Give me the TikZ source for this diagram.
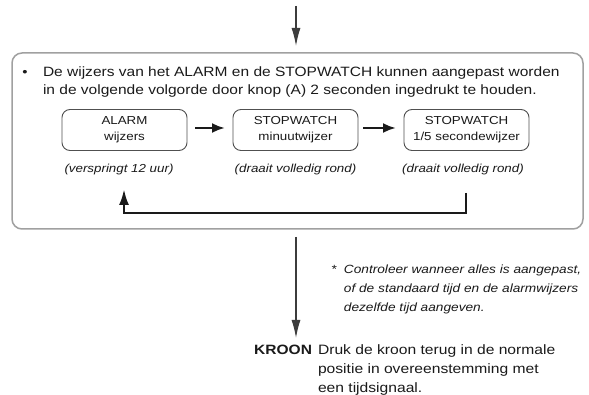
\documentclass[tikz,border=0pt]{standalone}
\usepackage{fontspec}
\setmainfont[FakeStretch=1.15]{Liberation Sans}
\usetikzlibrary{arrows.meta}
\definecolor{ink}{HTML}{1A1A1A}
\definecolor{frame}{HTML}{A0A0A0}
\definecolor{boxline}{HTML}{505050}
\begin{document}
\begin{tikzpicture}[x=1pt,y=-1pt,
  every node/.style={inner sep=0pt,outer sep=0pt,text=ink},
  outerframe/.style={draw=frame,line width=1.5pt,rounded corners=10pt},
  stepbox/.style={draw=boxline,line width=0.9pt,rounded corners=8pt,minimum width=125pt,minimum height=41pt,align=center,font=\fontsize{11.6}{16}\selectfont},
  flowarrow/.style={draw=ink!85,line width=1.3pt,-{Latex[length=18pt,width=9pt]}},
  nextarrow/.style={draw=ink,line width=2.5pt,-{Latex[length=13pt,width=10pt]}},
  note/.style={font=\fontsize{11.6}{14}\selectfont\itshape},
  body/.style={font=\fontsize{13.5}{17}\selectfont,align=left}
]
\path[fill=white] (0,0) rectangle (589,395);
\useasboundingbox (0,0) rectangle (589,395);

\coordinate (start) at (296,6);
\node[outerframe,minimum width=571pt,minimum height=176pt,anchor=north west] (frame) at (12,53) {};
\draw[flowarrow] (start) -- ([yshift=7pt]frame.north -| start);

\node[anchor=center,font=\fontsize{13}{14}\selectfont] (bullet) at (25,73) {•};
\node[body,anchor=west] (intro1) at (43,73) {De wijzers van het ALARM en de STOPWATCH kunnen aangepast worden};
\node[body,anchor=west] (intro2) at (43,91) {in de volgende volgorde door knop (A) 2 seconden ingedrukt te houden.};

\node[stepbox] (alarm) at (124.5,130) {ALARM\\wijzers};
\node[stepbox] (minute) at (295.5,130) {STOPWATCH\\minuutwijzer};
\node[stepbox] (fifth) at (466.5,130) {STOPWATCH\\1/5 secondewijzer};

\draw[nextarrow] ([xshift=8pt,yshift=2pt]alarm.east) -- ([xshift=-8pt,yshift=2pt]minute.west);
\draw[nextarrow] ([xshift=5pt,yshift=2pt]minute.east) -- ([xshift=-8pt,yshift=2pt]fifth.west);

\node[note] (l1) at (119,170) {(verspringt 12 uur)};
\node[note] (l2) at (295.5,170) {(draait volledig rond)};
\node[note] (l3) at (463,170) {(draait volledig rond)};

\draw[draw=ink,line width=2.6pt,-{Latex[length=16pt,width=10pt]}] (466,193) -- (466,213) -- (124,213) -- (124,189);

\coordinate (downstart) at (296,237);
\node[font=\fontsize{13.5}{16}\selectfont\bfseries,anchor=east] (kroon) at (312,350) {KROON};
\draw[flowarrow] (downstart) -- (296,338);

\node[note,anchor=north west,align=left,font=\fontsize{11.9}{19}\selectfont\itshape] (foot) at (331,265) {*\ \ Controleer wanneer alles is aangepast,\\\phantom{*\ \ }of de standaard tijd en de alarmwijzers\\\phantom{*\ \ }dezelfde tijd aangeven.};

\node[anchor=north west,align=left,font=\fontsize{13.6}{19}\selectfont] (druk) at (318,345) {Druk de kroon terug in de normale\\positie in overeenstemming met\\een tijdsignaal.};
\end{tikzpicture}
\end{document}
